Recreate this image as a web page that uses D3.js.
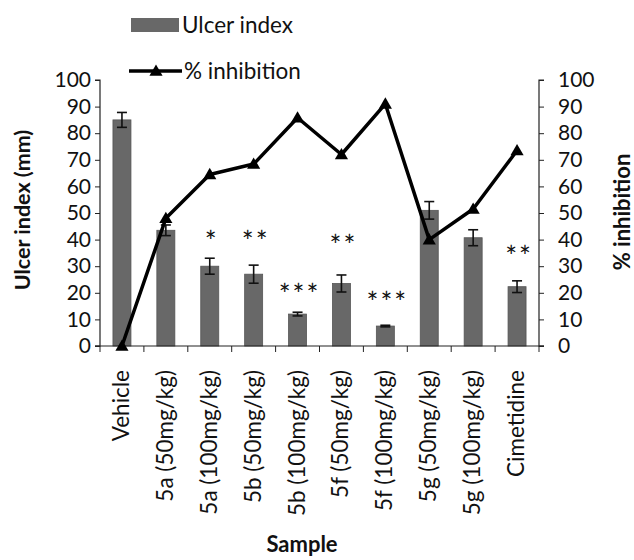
<!DOCTYPE html>
<html>
<head>
<meta charset="utf-8">
<script src="https://cdn.jsdelivr.net/npm/d3@7"></script>
<style>
  body { margin: 0; background: #fff; }
  text { font-family: Lato, "Open Sans", sans-serif; fill: #111; }
</style>
</head>
<body>
<svg id="chart"></svg>
<script>
const samples = ["Vehicle", "5a (50mg/kg)", "5a (100mg/kg)", "5b (50mg/kg)", "5b (100mg/kg)",
    "5f (50mg/kg)", "5f (100mg/kg)", "5g (50mg/kg)", "5g (100mg/kg)", "Cimetidine"];
const ulcerIndex = [85, 43.5, 30, 27, 12, 23.5, 7.5, 51, 40.7, 22.3];
const ulcerErr = [2.8, 2, 3, 3.4, 0.7, 3.2, 0.3, 3.3, 3, 2.2];
const inhibition = [0, 48, 64.5, 68.4, 85.8, 72, 91, 40, 51.5, 73.5];
const stars = ["", "", "*", "**", "***", "**", "***", "", "", "**"];
const starPos = [0, 0, 41, 41, 21, 39.5, 18, 0, 0, 35.5];
const yTicks = d3.range(0, 101, 10);

const width = 634, height = 560;
const margin = {top: 80, right: 95, bottom: 214, left: 100};

const svg = d3.select("#chart")
    .attr("width", width)
    .attr("height", height);

const xOuter = d3.scaleBand()
    .domain(samples)
    .range([margin.left, width - margin.right]);
const yLeft = d3.scaleLinear()
    .domain([0, 100])
    .range([height - margin.bottom, margin.top]);
const yRight = d3.scaleLinear()
    .domain([0, 100])
    .range([height - margin.bottom, margin.top]);

const barColor = "#686868";
const mid = d => xOuter(d) + xOuter.bandwidth() / 2;

// bars
svg.append("g")
    .selectAll("rect")
    .data(samples)
    .join("rect")
    .attr("x", d => mid(d) - 9)
    .attr("width", 18)
    .attr("y", (d, i) => yLeft(ulcerIndex[i]))
    .attr("height", (d, i) => yLeft(0) - yLeft(ulcerIndex[i]))
    .attr("fill", barColor)
    .attr("stroke", "#555")
    .attr("stroke-width", 0.8);

// error bars
const err = svg.append("g")
    .attr("stroke", "#111")
    .attr("stroke-width", 1.6)
    .selectAll("g")
    .data(samples)
    .join("g")
    .attr("transform", d => `translate(${mid(d)},0)`);
err.append("line")
    .attr("y1", (d, i) => yLeft(ulcerIndex[i] + ulcerErr[i]))
    .attr("y2", (d, i) => yLeft(ulcerIndex[i] - ulcerErr[i]));
err.append("line")
    .attr("x1", -5).attr("x2", 5)
    .attr("y1", (d, i) => yLeft(ulcerIndex[i] + ulcerErr[i]))
    .attr("y2", (d, i) => yLeft(ulcerIndex[i] + ulcerErr[i]));
err.append("line")
    .attr("x1", -5).attr("x2", 5)
    .attr("y1", (d, i) => yLeft(ulcerIndex[i] - ulcerErr[i]))
    .attr("y2", (d, i) => yLeft(ulcerIndex[i] - ulcerErr[i]));

// significance stars
svg.append("g")
    .selectAll("text")
    .data(samples)
    .join("text")
    .attr("x", d => mid(d) + 2)
    .attr("y", (d, i) => yLeft(starPos[i]) + 15)
    .attr("text-anchor", "middle")
    .attr("font-size", 28)
    .attr("letter-spacing", 2)
    .text((d, i) => stars[i]);

// axes
const axisLeft = svg.append("g")
    .attr("transform", `translate(${margin.left},0)`)
    .call(d3.axisLeft(yLeft).tickValues(yTicks).tickSize(5).tickPadding(4));
const axisRight = svg.append("g")
    .attr("transform", `translate(${width - margin.right},0)`)
    .call(d3.axisRight(yRight).tickValues(yTicks).tickSize(5).tickPadding(14));
const axisBottom = svg.append("g")
    .attr("transform", `translate(0,${yLeft(0)})`)
    .call(d3.axisBottom(xOuter).tickSize(0).tickFormat(""));
axisBottom.selectAll(".tick").remove();
axisBottom.append("g")
    .selectAll("line")
    .data(samples)
    .join("line")
    .attr("x1", d => xOuter(d) + xOuter.bandwidth())
    .attr("x2", d => xOuter(d) + xOuter.bandwidth())
    .attr("y1", 0).attr("y2", 6)
    .attr("stroke", "#222");
axisBottom.append("line")
    .attr("x1", margin.left).attr("x2", margin.left)
    .attr("y1", 0).attr("y2", 6)
    .attr("stroke", "#222");

[axisLeft, axisRight, axisBottom].forEach(a => {
    a.select(".domain").attr("stroke", "#222").attr("stroke-width", 1.2);
    a.selectAll(".tick line").attr("stroke", "#222");
    a.selectAll(".tick text").attr("font-size", 21).attr("fill", "#111")
        .style("font-family", "Lato, sans-serif");
});
axisLeft.select(".domain").attr("d", `M-5,${margin.top}H0V${yLeft(0)}H-5`);
axisRight.select(".domain").attr("d", `M5,${margin.top}H0V${yLeft(0)}H5`);
axisBottom.select(".domain").attr("d", `M${margin.left - 5},0H${width - margin.right + 5}`);

// category labels
svg.append("g")
    .selectAll("text")
    .data(samples)
    .join("text")
    .attr("transform", d => `translate(${mid(d) + 7},${yLeft(0) + 24}) rotate(-90)`)
    .attr("text-anchor", "end")
    .attr("font-size", 22.5)
    .text(d => d);

// inhibition line
const line = d3.line()
    .x(d => mid(d.s))
    .y(d => yRight(d.v));
const lineData = samples.map((s, i) => ({s: s, v: inhibition[i]}));
svg.append("path")
    .datum(lineData)
    .attr("d", line)
    .attr("fill", "none")
    .attr("stroke", "#000")
    .attr("stroke-width", 3.5)
    .attr("stroke-linejoin", "round");
const tri = d3.symbol().type(d3.symbolTriangle).size(75);
svg.append("g")
    .selectAll("path")
    .data(lineData)
    .join("path")
    .attr("transform", d => `translate(${mid(d.s)},${yRight(d.v) + 1})`)
    .attr("d", tri)
    .attr("fill", "#000");

// axis titles
svg.append("text")
    .attr("transform", `translate(30,${(yLeft(0) + margin.top) / 2 - 3}) rotate(-90)`)
    .attr("text-anchor", "middle")
    .attr("font-size", 21.5)
    .attr("font-weight", "bold")
    .text("Ulcer index (mm)");
svg.append("text")
    .attr("transform", `translate(630,${(yLeft(0) + margin.top) / 2 - 1}) rotate(-90)`)
    .attr("text-anchor", "middle")
    .attr("font-size", 22)
    .attr("font-weight", "bold")
    .text("% inhibition");
svg.append("text")
    .attr("x", 302)
    .attr("y", 552)
    .attr("text-anchor", "middle")
    .attr("font-size", 22)
    .attr("font-weight", "bold")
    .text("Sample");

// legend
const legend = svg.append("g");
legend.append("rect")
    .attr("x", 131).attr("y", 18)
    .attr("width", 48).attr("height", 14)
    .attr("fill", barColor);
legend.append("text")
    .attr("x", 182).attr("y", 33)
    .attr("font-size", 22.5)
    .text("Ulcer index");
legend.append("line")
    .attr("x1", 129).attr("x2", 182)
    .attr("y1", 71).attr("y2", 71)
    .attr("stroke", "#000")
    .attr("stroke-width", 3.5);
legend.append("path")
    .attr("transform", "translate(156,72)")
    .attr("d", tri)
    .attr("fill", "#000");
legend.append("text")
    .attr("x", 184).attr("y", 79)
    .attr("font-size", 22.5)
    .text("% inhibition");
</script>
</body>
</html>
